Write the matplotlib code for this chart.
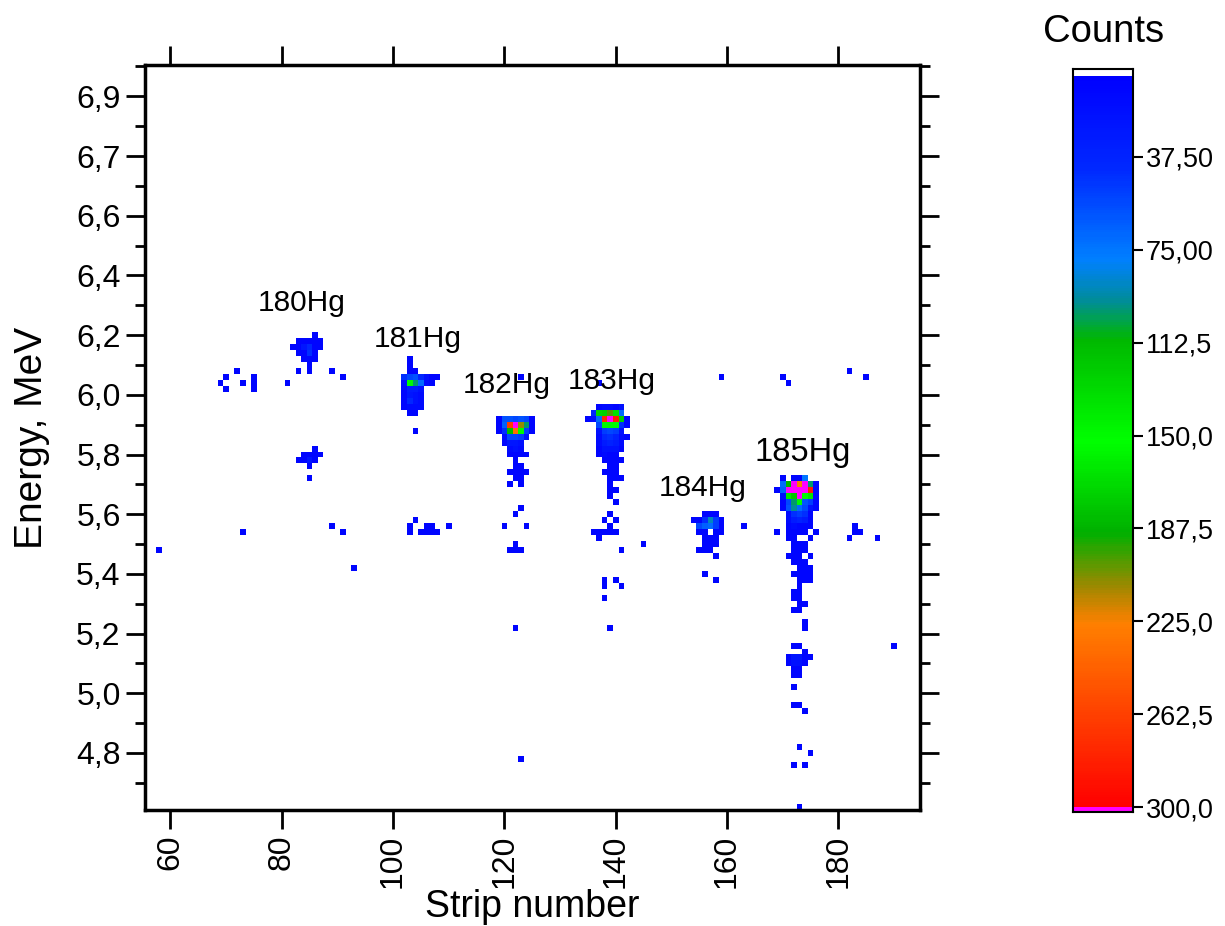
import numpy as np
import matplotlib
matplotlib.use("Agg")
import matplotlib.pyplot as plt
from matplotlib.colors import LinearSegmentedColormap
from matplotlib.patches import Rectangle

plt.rcParams['font.family'] = ['Liberation Sans', 'DejaVu Sans']

# ---- data: (energy MeV, first strip, counts for consecutive strips; 0 = empty) ----
hg180_rows = [
    (6.20, 86, [10]),
    (6.18, 83, [10, 10, 10, 10, 10]),
    (6.16, 82, [10, 10, 25, 40, 10, 10]),
    (6.14, 83, [10, 10, 45, 10]),
    (6.12, 84, [10, 10, 10]),
    (6.10, 85, [10]),
    (6.08, 83, [10, 0, 10, 0, 0, 0, 10]),
    (6.06, 91, [10]),
    (5.82, 86, [10]),
    (5.80, 84, [10, 10, 10, 10]),
    (5.78, 83, [10, 10, 25, 10]),
    (5.76, 85, [10]),
    (5.72, 85, [10]),
]

hg181_rows = [
    (6.12, 103, [10]),
    (6.10, 103, [10]),
    (6.08, 103, [10, 10]),
    (6.06, 102, [45, 55, 60, 40, 20, 10, 10]),
    (6.04, 102, [15, 150, 100, 70, 15, 10]),
    (6.02, 102, [10, 30, 30, 20]),
    (6.00, 102, [10, 25, 20, 15]),
    (5.98, 102, [10, 40, 20, 15]),
    (5.96, 102, [10, 15, 15, 15]),
    (5.94, 103, [10, 10]),
    (5.88, 104, [10]),
    (5.58, 104, [10]),
    (5.56, 103, [10, 0, 0, 10, 10, 0, 0, 10]),
    (5.54, 103, [10, 0, 10, 10, 10, 10]),
]

hg182_rows = [
    (5.92, 119, [10, 60, 60, 55, 60, 55, 10]),
    (5.90, 119, [10, 65, 265, 320, 210, 100, 10]),
    (5.88, 119, [10, 45, 115, 235, 150, 50, 10]),
    (5.86, 120, [15, 55, 55, 50, 20]),
    (5.84, 120, [10, 25, 25, 20]),
    (5.82, 121, [15, 20, 15]),
    (5.80, 121, [10, 10, 10, 10]),
    (5.78, 122, [10]),
    (5.76, 122, [10, 10]),
    (5.74, 121, [10, 10, 10, 10]),
    (5.72, 122, [10, 10]),
    (5.70, 121, [10, 0, 10]),
    (5.62, 123, [10]),
    (5.60, 122, [10]),
    (5.56, 120, [10, 0, 0, 0, 10]),
    (5.50, 122, [10]),
    (5.48, 121, [10, 10, 10]),
    (5.22, 122, [10]),
    (4.78, 123, [10]),
]

hg183_rows = [
    (6.04, 137, [10]),
    (5.96, 137, [10, 15, 15, 10, 20]),
    (5.94, 136, [40, 130, 125, 200, 135, 70]),
    (5.92, 135, [10, 15, 70, 275, 320, 285, 125, 10]),
    (5.90, 137, [55, 150, 155, 150, 45, 10]),
    (5.88, 137, [20, 50, 55, 50, 20]),
    (5.86, 137, [15, 40, 45, 35, 15, 10]),
    (5.84, 137, [15, 30, 35, 30, 15]),
    (5.82, 137, [10, 20, 20, 20, 10]),
    (5.80, 137, [10, 15, 10, 10]),
    (5.78, 138, [10, 10, 10, 10]),
    (5.76, 139, [10, 10]),
    (5.74, 138, [10, 10, 10]),
    (5.72, 139, [10, 10, 10]),
    (5.70, 139, [10]),
    (5.68, 139, [10, 10]),
    (5.66, 139, [10]),
    (5.64, 140, [10]),
    (5.60, 139, [10]),
    (5.58, 138, [10, 0, 10]),
    (5.56, 139, [10]),
    (5.54, 136, [10, 10, 10, 10, 10]),
    (5.52, 137, [10]),
    (5.50, 145, [10]),
    (5.48, 141, [10]),
    (5.38, 138, [10, 0, 10]),
    (5.36, 138, [10, 0, 0, 10]),
    (5.32, 138, [10]),
    (5.22, 139, [10]),
]

hg184_rows = [
    (5.60, 156, [10, 10, 10]),
    (5.58, 154, [10, 10, 45, 90, 50, 10]),
    (5.56, 155, [55, 65, 70, 50, 10]),
    (5.54, 155, [10, 10, 0, 10, 10]),
    (5.52, 156, [10, 10, 10]),
    (5.50, 156, [10, 10, 10]),
    (5.48, 155, [10, 10, 10]),
    (5.46, 158, [10]),
    (5.40, 156, [10]),
    (5.38, 158, [10]),
]

hg185_rows = [
    (5.72, 170, [10, 0, 10, 10, 75]),
    (5.70, 170, [70, 185, 320, 225, 320, 100, 10]),
    (5.68, 169, [10, 65, 320, 320, 320, 320, 285, 10]),
    (5.66, 170, [15, 165, 180, 320, 150, 165, 10]),
    (5.64, 170, [10, 55, 100, 150, 60, 50, 10]),
    (5.62, 170, [10, 60, 95, 70, 55, 20, 10]),
    (5.60, 171, [15, 45, 50, 45, 10]),
    (5.58, 171, [15, 30, 35, 30, 10]),
    (5.56, 171, [10, 15, 10, 10, 10]),
    (5.54, 169, [10, 0, 10, 10, 10, 10, 0, 10]),
    (5.52, 171, [10, 10, 0, 0, 10]),
    (5.50, 172, [10, 10, 10]),
    (5.48, 172, [10, 10, 10]),
    (5.46, 171, [10, 10, 10, 0, 10]),
    (5.44, 172, [10, 10, 10]),
    (5.42, 173, [10, 10, 10]),
    (5.40, 172, [10, 10, 10, 10]),
    (5.38, 173, [10, 10, 10]),
    (5.36, 173, [10]),
    (5.34, 172, [10, 10]),
    (5.32, 172, [10, 10]),
    (5.30, 173, [10, 10]),
    (5.28, 172, [10, 10]),
    (5.24, 174, [10]),
    (5.22, 174, [10]),
    (5.16, 172, [10, 10]),
    (5.14, 174, [10]),
    (5.12, 171, [10, 25, 25, 10, 10]),
    (5.10, 171, [10, 20, 20, 10]),
    (5.08, 172, [10, 10]),
    (5.06, 172, [10, 10]),
    (5.02, 172, [10]),
    (4.96, 172, [10, 10]),
    (4.94, 174, [10]),
    (4.82, 173, [10]),
    (4.80, 175, [10]),
    (4.76, 172, [10, 0, 10]),
    (4.62, 173, [10]),
]

# single scattered events (strip, energy)
single_strip = [58, 73, 89, 91, 93, 72, 70, 69, 73, 70, 75, 75, 75, 81,
                123, 159, 170, 171, 182, 185, 163, 183, 183, 184, 182, 187, 190]
single_energy = [5.48, 5.54, 5.56, 5.54, 5.42, 6.08, 6.06, 6.04, 6.04, 6.02, 6.06, 6.04, 6.02, 6.04,
                 6.06, 6.06, 6.06, 6.04, 6.08, 6.06, 5.56, 5.56, 5.54, 5.54, 5.52, 5.52, 5.16]

labels = ['180Hg', '181Hg', '182Hg', '183Hg', '184Hg', '185Hg']
label_x = [83.5, 104.5, 120.5, 139.2, 155.7, 173.5]
label_y = [6.307, 6.187, 6.033, 6.046, 5.688, 5.808]
label_size = [21.5, 21.5, 21.5, 21.5, 21.5, 23.5]

# ---- build the matrix ----
strip_edges = np.arange(49.5, 200.5, 1.0)
e_step = 0.02
e_min = 4.50
energy_edges = np.arange(e_min - e_step / 2, 7.30, e_step)
counts = np.zeros((len(energy_edges) - 1, len(strip_edges) - 1))


def cell(strip, energy):
    return int(round((energy - e_min) / e_step)), int(strip - 50)


for rows in [hg180_rows, hg181_rows, hg182_rows, hg183_rows, hg184_rows, hg185_rows]:
    for energy, s0, vals in rows:
        for k, v in enumerate(vals):
            if v:
                i, j = cell(s0 + k, energy)
                counts[i, j] = v

for s, e in zip(single_strip, single_energy):
    i, j = cell(s, e)
    counts[i, j] = 10

data = np.ma.masked_equal(counts, 0)

# Origin-like colour scale
cmap = LinearSegmentedColormap.from_list('origin', [
    (0.000, '#0000ff'),
    (0.125, '#0028ff'),
    (0.250, '#0080ff'),
    (0.305, '#008c9c'),
    (0.360, '#00b800'),
    (0.500, '#00ff00'),
    (0.625, '#00b000'),
    (0.700, '#a08800'),
    (0.750, '#ff8000'),
    (0.875, '#ff4000'),
    (1.000, '#ff0000'),
])
cmap.set_over('#ff00ff')
cmap.set_under('white')
vmin, vmax = 5, 300

fig = plt.figure(figsize=(12.25, 9.26), dpi=100)
ax = fig.add_axes([145 / 1225, 1 - 810 / 926, 775 / 1225, 745 / 926])

ax.pcolormesh(strip_edges, energy_edges, data, cmap=cmap, vmin=vmin, vmax=vmax)

for t, x, y, fs in zip(labels, label_x, label_y, label_size):
    ax.text(x, y, t, ha='center', va='center', fontsize=fs)

ax.set_xlim(55.44, 194.65)
ax.set_ylim(4.609, 7.105)

yt = np.arange(4.8, 7.01, 0.2)
ax.set_yticks(yt)
ax.set_yticklabels(['4,8', '5,0', '5,2', '5,4', '5,6', '5,8', '6,0', '6,2', '6,4', '6,6', '6,7', '6,9'])
ax.set_yticks(np.arange(4.7, 7.11, 0.2), minor=True)
ax.set_xticks(np.arange(60, 181, 20))
ax.set_xticklabels([str(v) for v in range(60, 181, 20)], rotation=90)

ax.tick_params(which='major', direction='out', length=14, width=2, labelsize=23,
               top=True, right=True)
ax.tick_params(which='minor', direction='out', length=7, width=2, top=False, right=True)
for sp in ax.spines.values():
    sp.set_linewidth(2.5)

ax.set_xlabel('Strip number', fontsize=27)
ax.xaxis.set_label_coords(0.5, -0.106)
ax.set_ylabel('Energy, MeV', fontsize=28)
ax.yaxis.set_label_coords(-0.123, 0.5)

# ---- colour bar (0 at the top) ----
cax = fig.add_axes([1073 / 1225, 1 - 812 / 926, 60 / 1225, 743 / 926])
lev = np.linspace(vmin, vmax, 301)
cax.pcolormesh([0, 1], lev, (0.5 * (lev[:-1] + lev[1:]))[:, None], cmap=cmap, vmin=vmin, vmax=vmax)
cax.add_patch(Rectangle((0, vmax), 1, 2, facecolor='#ff00ff', edgecolor='none'))
cax.set_xlim(0, 1)
cax.set_ylim(302, 2)
cax.set_xticks([])
cax.yaxis.tick_right()
cb_ticks = [37.5, 75, 112.5, 150, 187.5, 225, 262.5, 300]
cax.set_yticks(cb_ticks)
cax.set_yticklabels(['37,50', '75,00', '112,5', '150,0', '187,5', '225,0', '262,5', '300,0'])
cax.tick_params(direction='out', length=7, width=1.5, pad=2, labelsize=19.5)
for sp in cax.spines.values():
    sp.set_linewidth(1.5)
fig.text(1104 / 1225, 1 - 32 / 926, 'Counts', ha='center', va='center', fontsize=27.5)

fig.savefig('out.png', dpi=100)
